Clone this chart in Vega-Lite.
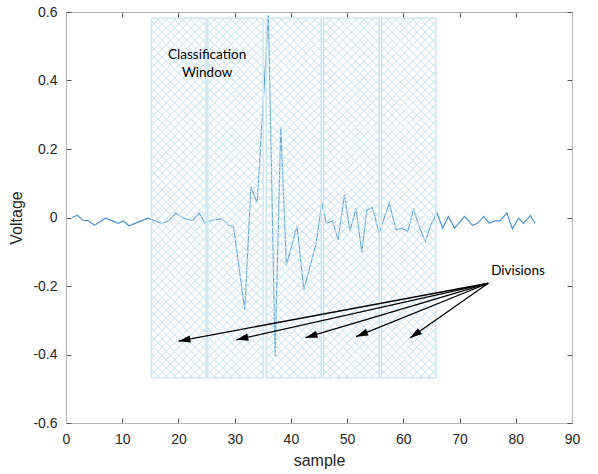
{
  "$schema": "https://vega.github.io/schema/vega-lite/v6.json",
  "width": 506,
  "height": 411,
  "autosize": {"type": "none"},
  "padding": {"left": 66, "top": 12, "right": 26, "bottom": 51},
  "background": "white",
  "config": {
    "view": {"stroke": null},
    "font": "Liberation Sans",
    "axis": {
      "grid": false,
      "labelFlush": false,
      "domainColor": "#b4b4b4",
      "domainWidth": 1,
      "tickColor": "#555555",
      "tickSize": -5,
      "labelColor": "#262626",
      "labelFontSize": 14,
      "labelFont": "Liberation Sans",
      "titleFont": "Liberation Sans",
      "titleFontSize": 16,
      "titleFontWeight": "normal",
      "titleColor": "#262626"
    }
  },
  "datasets": {
    "signal": [
      {"sample": 1.1, "voltage": 0.0},
      {"sample": 2.0, "voltage": 0.007},
      {"sample": 3.0, "voltage": -0.008},
      {"sample": 3.9, "voltage": -0.009},
      {"sample": 5.1, "voltage": -0.023},
      {"sample": 6.1, "voltage": -0.012},
      {"sample": 7.0, "voltage": -0.002},
      {"sample": 8.2, "voltage": -0.009},
      {"sample": 9.3, "voltage": -0.017},
      {"sample": 10.2, "voltage": -0.01},
      {"sample": 11.2, "voltage": -0.024},
      {"sample": 12.3, "voltage": -0.017},
      {"sample": 13.5, "voltage": -0.009},
      {"sample": 14.6, "voltage": -0.002},
      {"sample": 15.6, "voltage": -0.009},
      {"sample": 17.1, "voltage": -0.018},
      {"sample": 18.3, "voltage": -0.009},
      {"sample": 19.5, "voltage": 0.013},
      {"sample": 20.6, "voltage": 0.001},
      {"sample": 21.5, "voltage": -0.005},
      {"sample": 22.6, "voltage": -0.008},
      {"sample": 23.7, "voltage": 0.013},
      {"sample": 24.7, "voltage": -0.016},
      {"sample": 25.9, "voltage": -0.008},
      {"sample": 27.5, "voltage": -0.004},
      {"sample": 28.1, "voltage": -0.008},
      {"sample": 29.0, "voltage": -0.023},
      {"sample": 29.8, "voltage": -0.027},
      {"sample": 31.8, "voltage": -0.27},
      {"sample": 32.9, "voltage": 0.09},
      {"sample": 34.0, "voltage": 0.042},
      {"sample": 36.0, "voltage": 0.59},
      {"sample": 37.2, "voltage": -0.405},
      {"sample": 38.2, "voltage": 0.265},
      {"sample": 39.2, "voltage": -0.14},
      {"sample": 41.1, "voltage": -0.025},
      {"sample": 42.3, "voltage": -0.211},
      {"sample": 43.4, "voltage": -0.143},
      {"sample": 44.5, "voltage": -0.075},
      {"sample": 45.5, "voltage": 0.042},
      {"sample": 46.3, "voltage": -0.017},
      {"sample": 47.4, "voltage": -0.01},
      {"sample": 48.4, "voltage": -0.065},
      {"sample": 49.5, "voltage": 0.066},
      {"sample": 50.5, "voltage": -0.039},
      {"sample": 51.6, "voltage": 0.027},
      {"sample": 52.6, "voltage": -0.101},
      {"sample": 53.5, "voltage": 0.022},
      {"sample": 54.5, "voltage": 0.029},
      {"sample": 55.7, "voltage": -0.046},
      {"sample": 57.5, "voltage": 0.042},
      {"sample": 58.7, "voltage": -0.036},
      {"sample": 59.8, "voltage": -0.031},
      {"sample": 60.8, "voltage": -0.041},
      {"sample": 61.8, "voltage": 0.024},
      {"sample": 62.8, "voltage": -0.026},
      {"sample": 63.9, "voltage": -0.07},
      {"sample": 64.9, "voltage": -0.021},
      {"sample": 66.0, "voltage": 0.013},
      {"sample": 67.0, "voltage": -0.031},
      {"sample": 68.0, "voltage": 0.003},
      {"sample": 69.1, "voltage": -0.031},
      {"sample": 70.9, "voltage": 0.003},
      {"sample": 72.3, "voltage": -0.023},
      {"sample": 73.2, "voltage": -0.017},
      {"sample": 74.3, "voltage": 0.003},
      {"sample": 75.3, "voltage": -0.017},
      {"sample": 76.2, "voltage": -0.01},
      {"sample": 77.2, "voltage": -0.01},
      {"sample": 78.4, "voltage": 0.013},
      {"sample": 79.4, "voltage": -0.033},
      {"sample": 80.5, "voltage": -0.002},
      {"sample": 81.4, "voltage": -0.017},
      {"sample": 82.6, "voltage": 0.006},
      {"sample": 83.4, "voltage": -0.017}
    ],
    "divisions": [
      {"start": 15.2, "end": 24.9, "low": -0.468, "high": 0.582},
      {"start": 25.2, "end": 35.1, "low": -0.468, "high": 0.582},
      {"start": 35.6, "end": 45.4, "low": -0.468, "high": 0.582},
      {"start": 45.8, "end": 55.7, "low": -0.468, "high": 0.582},
      {"start": 56.1, "end": 65.8, "low": -0.468, "high": 0.582}
    ],
    "arrows": [
      {"fromX": 75.1, "fromY": -0.192, "toX": 20.0, "toY": -0.361, "angle": 259.4},
      {"fromX": 75.1, "fromY": -0.192, "toX": 30.3, "toY": -0.357, "angle": 257.3},
      {"fromX": 75.1, "fromY": -0.192, "toX": 42.6, "toY": -0.351, "angle": 253.4},
      {"fromX": 75.1, "fromY": -0.192, "toX": 51.6, "toY": -0.348, "angle": 247.9},
      {"fromX": 75.1, "fromY": -0.192, "toX": 61.2, "toY": -0.352, "angle": 234.7}
    ],
    "notes": [
      {"x": 25.1, "y": 0.473, "label": "Classification"},
      {"x": 25.1, "y": 0.422, "label": "Window"},
      {"x": 80.4, "y": -0.157, "label": "Divisions"}
    ]
  },
  "resolve": {"axis": {"x": "independent", "y": "independent"}},
  "layer": [
    {
      "data": {"name": "signal"},
      "mark": {"type": "line", "color": "#4a93d2", "strokeWidth": 1.2},
      "encoding": {
        "x": {"field": "sample", "type": "quantitative", "scale": {"domain": [0, 90], "nice": false},
              "axis": {"orient": "bottom", "values": [0,10,20,30,40,50,60,70,80,90], "title": "sample", "labelPadding": 14, "titlePadding": 6}},
        "y": {"field": "voltage", "type": "quantitative", "scale": {"domain": [-0.6, 0.6], "nice": false},
              "axis": {"orient": "left", "values": [-0.6,-0.4,-0.2,0,0.2,0.4,0.6], "labelExpr": "datum.value == 0 ? '0' : replace(format(datum.value, '.1f'), '\u2212', '-')", "title": "Voltage", "labelPadding": 14, "titlePadding": 8}}
      }
    },
    {
      "data": {"name": "divisions"},
      "mark": {"type": "rect", "fill": "white", "fillOpacity": 0.2, "stroke": "#cfe7f2", "strokeWidth": 1.5},
      "encoding": {
        "x": {"field": "start", "type": "quantitative",
              "axis": {"orient": "top", "values": [0,10,20,30,40,50,60,70,80,90], "labels": false, "title": null}},
        "x2": {"field": "end"},
        "y": {"field": "low", "type": "quantitative",
              "axis": {"orient": "right", "values": [-0.6,-0.4,-0.2,0,0.2,0.4,0.6], "labels": false, "title": null}},
        "y2": {"field": "high"}
      }
    },
    {
      "data": {"name": "divisions"},
      "mark": {"type": "rect", "strokeWidth": 0, "fill": {"gradient": "linear", "x1": 0, "y1": 0, "x2": 0.172, "y2": 1.1265, "stops": [
        {"offset": 0, "color": "#cbe6f1"}, {"offset": 0.003, "color": "rgba(203,230,241,0)"}, {"offset": 0.017, "color": "rgba(203,230,241,0)"},
        {"offset": 0.02, "color": "#cbe6f1"}, {"offset": 0.023, "color": "rgba(203,230,241,0)"}, {"offset": 0.037, "color": "rgba(203,230,241,0)"},
        {"offset": 0.04, "color": "#cbe6f1"}, {"offset": 0.043, "color": "rgba(203,230,241,0)"}, {"offset": 0.057, "color": "rgba(203,230,241,0)"},
        {"offset": 0.06, "color": "#cbe6f1"}, {"offset": 0.063, "color": "rgba(203,230,241,0)"}, {"offset": 0.077, "color": "rgba(203,230,241,0)"},
        {"offset": 0.08, "color": "#cbe6f1"}, {"offset": 0.083, "color": "rgba(203,230,241,0)"}, {"offset": 0.097, "color": "rgba(203,230,241,0)"},
        {"offset": 0.1, "color": "#cbe6f1"}, {"offset": 0.103, "color": "rgba(203,230,241,0)"}, {"offset": 0.117, "color": "rgba(203,230,241,0)"},
        {"offset": 0.12, "color": "#cbe6f1"}, {"offset": 0.123, "color": "rgba(203,230,241,0)"}, {"offset": 0.137, "color": "rgba(203,230,241,0)"},
        {"offset": 0.14, "color": "#cbe6f1"}, {"offset": 0.143, "color": "rgba(203,230,241,0)"}, {"offset": 0.157, "color": "rgba(203,230,241,0)"},
        {"offset": 0.16, "color": "#cbe6f1"}, {"offset": 0.163, "color": "rgba(203,230,241,0)"}, {"offset": 0.177, "color": "rgba(203,230,241,0)"},
        {"offset": 0.18, "color": "#cbe6f1"}, {"offset": 0.183, "color": "rgba(203,230,241,0)"}, {"offset": 0.197, "color": "rgba(203,230,241,0)"},
        {"offset": 0.2, "color": "#cbe6f1"}, {"offset": 0.203, "color": "rgba(203,230,241,0)"}, {"offset": 0.217, "color": "rgba(203,230,241,0)"},
        {"offset": 0.22, "color": "#cbe6f1"}, {"offset": 0.223, "color": "rgba(203,230,241,0)"}, {"offset": 0.237, "color": "rgba(203,230,241,0)"},
        {"offset": 0.24, "color": "#cbe6f1"}, {"offset": 0.243, "color": "rgba(203,230,241,0)"}, {"offset": 0.257, "color": "rgba(203,230,241,0)"},
        {"offset": 0.26, "color": "#cbe6f1"}, {"offset": 0.263, "color": "rgba(203,230,241,0)"}, {"offset": 0.277, "color": "rgba(203,230,241,0)"},
        {"offset": 0.28, "color": "#cbe6f1"}, {"offset": 0.283, "color": "rgba(203,230,241,0)"}, {"offset": 0.297, "color": "rgba(203,230,241,0)"},
        {"offset": 0.3, "color": "#cbe6f1"}, {"offset": 0.303, "color": "rgba(203,230,241,0)"}, {"offset": 0.317, "color": "rgba(203,230,241,0)"},
        {"offset": 0.32, "color": "#cbe6f1"}, {"offset": 0.323, "color": "rgba(203,230,241,0)"}, {"offset": 0.337, "color": "rgba(203,230,241,0)"},
        {"offset": 0.34, "color": "#cbe6f1"}, {"offset": 0.343, "color": "rgba(203,230,241,0)"}, {"offset": 0.357, "color": "rgba(203,230,241,0)"},
        {"offset": 0.36, "color": "#cbe6f1"}, {"offset": 0.363, "color": "rgba(203,230,241,0)"}, {"offset": 0.377, "color": "rgba(203,230,241,0)"},
        {"offset": 0.38, "color": "#cbe6f1"}, {"offset": 0.383, "color": "rgba(203,230,241,0)"}, {"offset": 0.397, "color": "rgba(203,230,241,0)"},
        {"offset": 0.4, "color": "#cbe6f1"}, {"offset": 0.403, "color": "rgba(203,230,241,0)"}, {"offset": 0.417, "color": "rgba(203,230,241,0)"},
        {"offset": 0.42, "color": "#cbe6f1"}, {"offset": 0.423, "color": "rgba(203,230,241,0)"}, {"offset": 0.437, "color": "rgba(203,230,241,0)"},
        {"offset": 0.44, "color": "#cbe6f1"}, {"offset": 0.443, "color": "rgba(203,230,241,0)"}, {"offset": 0.457, "color": "rgba(203,230,241,0)"},
        {"offset": 0.46, "color": "#cbe6f1"}, {"offset": 0.463, "color": "rgba(203,230,241,0)"}, {"offset": 0.477, "color": "rgba(203,230,241,0)"},
        {"offset": 0.48, "color": "#cbe6f1"}, {"offset": 0.483, "color": "rgba(203,230,241,0)"}, {"offset": 0.497, "color": "rgba(203,230,241,0)"},
        {"offset": 0.5, "color": "#cbe6f1"}, {"offset": 0.503, "color": "rgba(203,230,241,0)"}, {"offset": 0.517, "color": "rgba(203,230,241,0)"},
        {"offset": 0.52, "color": "#cbe6f1"}, {"offset": 0.523, "color": "rgba(203,230,241,0)"}, {"offset": 0.537, "color": "rgba(203,230,241,0)"},
        {"offset": 0.54, "color": "#cbe6f1"}, {"offset": 0.543, "color": "rgba(203,230,241,0)"}, {"offset": 0.557, "color": "rgba(203,230,241,0)"},
        {"offset": 0.56, "color": "#cbe6f1"}, {"offset": 0.563, "color": "rgba(203,230,241,0)"}, {"offset": 0.577, "color": "rgba(203,230,241,0)"},
        {"offset": 0.58, "color": "#cbe6f1"}, {"offset": 0.583, "color": "rgba(203,230,241,0)"}, {"offset": 0.597, "color": "rgba(203,230,241,0)"},
        {"offset": 0.6, "color": "#cbe6f1"}, {"offset": 0.603, "color": "rgba(203,230,241,0)"}, {"offset": 0.617, "color": "rgba(203,230,241,0)"},
        {"offset": 0.62, "color": "#cbe6f1"}, {"offset": 0.623, "color": "rgba(203,230,241,0)"}, {"offset": 0.637, "color": "rgba(203,230,241,0)"},
        {"offset": 0.64, "color": "#cbe6f1"}, {"offset": 0.643, "color": "rgba(203,230,241,0)"}, {"offset": 0.657, "color": "rgba(203,230,241,0)"},
        {"offset": 0.66, "color": "#cbe6f1"}, {"offset": 0.663, "color": "rgba(203,230,241,0)"}, {"offset": 0.677, "color": "rgba(203,230,241,0)"},
        {"offset": 0.68, "color": "#cbe6f1"}, {"offset": 0.683, "color": "rgba(203,230,241,0)"}, {"offset": 0.697, "color": "rgba(203,230,241,0)"},
        {"offset": 0.7, "color": "#cbe6f1"}, {"offset": 0.703, "color": "rgba(203,230,241,0)"}, {"offset": 0.717, "color": "rgba(203,230,241,0)"},
        {"offset": 0.72, "color": "#cbe6f1"}, {"offset": 0.723, "color": "rgba(203,230,241,0)"}, {"offset": 0.737, "color": "rgba(203,230,241,0)"},
        {"offset": 0.74, "color": "#cbe6f1"}, {"offset": 0.743, "color": "rgba(203,230,241,0)"}, {"offset": 0.757, "color": "rgba(203,230,241,0)"},
        {"offset": 0.76, "color": "#cbe6f1"}, {"offset": 0.763, "color": "rgba(203,230,241,0)"}, {"offset": 0.777, "color": "rgba(203,230,241,0)"},
        {"offset": 0.78, "color": "#cbe6f1"}, {"offset": 0.783, "color": "rgba(203,230,241,0)"}, {"offset": 0.797, "color": "rgba(203,230,241,0)"},
        {"offset": 0.8, "color": "#cbe6f1"}, {"offset": 0.803, "color": "rgba(203,230,241,0)"}, {"offset": 0.817, "color": "rgba(203,230,241,0)"},
        {"offset": 0.82, "color": "#cbe6f1"}, {"offset": 0.823, "color": "rgba(203,230,241,0)"}, {"offset": 0.837, "color": "rgba(203,230,241,0)"},
        {"offset": 0.84, "color": "#cbe6f1"}, {"offset": 0.843, "color": "rgba(203,230,241,0)"}, {"offset": 0.857, "color": "rgba(203,230,241,0)"},
        {"offset": 0.86, "color": "#cbe6f1"}, {"offset": 0.863, "color": "rgba(203,230,241,0)"}, {"offset": 0.877, "color": "rgba(203,230,241,0)"},
        {"offset": 0.88, "color": "#cbe6f1"}, {"offset": 0.883, "color": "rgba(203,230,241,0)"}, {"offset": 0.897, "color": "rgba(203,230,241,0)"},
        {"offset": 0.9, "color": "#cbe6f1"}, {"offset": 0.903, "color": "rgba(203,230,241,0)"}, {"offset": 0.917, "color": "rgba(203,230,241,0)"},
        {"offset": 0.92, "color": "#cbe6f1"}, {"offset": 0.923, "color": "rgba(203,230,241,0)"}, {"offset": 0.937, "color": "rgba(203,230,241,0)"},
        {"offset": 0.94, "color": "#cbe6f1"}, {"offset": 0.943, "color": "rgba(203,230,241,0)"}, {"offset": 0.957, "color": "rgba(203,230,241,0)"},
        {"offset": 0.96, "color": "#cbe6f1"}, {"offset": 0.963, "color": "rgba(203,230,241,0)"}, {"offset": 0.977, "color": "rgba(203,230,241,0)"},
        {"offset": 0.98, "color": "#cbe6f1"}, {"offset": 0.983, "color": "rgba(203,230,241,0)"}, {"offset": 0.997, "color": "rgba(203,230,241,0)"},
        {"offset": 1, "color": "#cbe6f1"}
      ]}},
      "encoding": {
        "x": {"field": "start", "type": "quantitative", "axis": null},
        "x2": {"field": "end"},
        "y": {"field": "low", "type": "quantitative", "axis": null},
        "y2": {"field": "high"}
      }
    },
    {
      "data": {"name": "divisions"},
      "mark": {"type": "rect", "strokeWidth": 0, "fill": {"gradient": "linear", "x1": 0, "y1": 1, "x2": 0.172, "y2": -0.1265, "stops": [
        {"offset": 0, "color": "#cbe6f1"}, {"offset": 0.003, "color": "rgba(203,230,241,0)"}, {"offset": 0.017, "color": "rgba(203,230,241,0)"},
        {"offset": 0.02, "color": "#cbe6f1"}, {"offset": 0.023, "color": "rgba(203,230,241,0)"}, {"offset": 0.037, "color": "rgba(203,230,241,0)"},
        {"offset": 0.04, "color": "#cbe6f1"}, {"offset": 0.043, "color": "rgba(203,230,241,0)"}, {"offset": 0.057, "color": "rgba(203,230,241,0)"},
        {"offset": 0.06, "color": "#cbe6f1"}, {"offset": 0.063, "color": "rgba(203,230,241,0)"}, {"offset": 0.077, "color": "rgba(203,230,241,0)"},
        {"offset": 0.08, "color": "#cbe6f1"}, {"offset": 0.083, "color": "rgba(203,230,241,0)"}, {"offset": 0.097, "color": "rgba(203,230,241,0)"},
        {"offset": 0.1, "color": "#cbe6f1"}, {"offset": 0.103, "color": "rgba(203,230,241,0)"}, {"offset": 0.117, "color": "rgba(203,230,241,0)"},
        {"offset": 0.12, "color": "#cbe6f1"}, {"offset": 0.123, "color": "rgba(203,230,241,0)"}, {"offset": 0.137, "color": "rgba(203,230,241,0)"},
        {"offset": 0.14, "color": "#cbe6f1"}, {"offset": 0.143, "color": "rgba(203,230,241,0)"}, {"offset": 0.157, "color": "rgba(203,230,241,0)"},
        {"offset": 0.16, "color": "#cbe6f1"}, {"offset": 0.163, "color": "rgba(203,230,241,0)"}, {"offset": 0.177, "color": "rgba(203,230,241,0)"},
        {"offset": 0.18, "color": "#cbe6f1"}, {"offset": 0.183, "color": "rgba(203,230,241,0)"}, {"offset": 0.197, "color": "rgba(203,230,241,0)"},
        {"offset": 0.2, "color": "#cbe6f1"}, {"offset": 0.203, "color": "rgba(203,230,241,0)"}, {"offset": 0.217, "color": "rgba(203,230,241,0)"},
        {"offset": 0.22, "color": "#cbe6f1"}, {"offset": 0.223, "color": "rgba(203,230,241,0)"}, {"offset": 0.237, "color": "rgba(203,230,241,0)"},
        {"offset": 0.24, "color": "#cbe6f1"}, {"offset": 0.243, "color": "rgba(203,230,241,0)"}, {"offset": 0.257, "color": "rgba(203,230,241,0)"},
        {"offset": 0.26, "color": "#cbe6f1"}, {"offset": 0.263, "color": "rgba(203,230,241,0)"}, {"offset": 0.277, "color": "rgba(203,230,241,0)"},
        {"offset": 0.28, "color": "#cbe6f1"}, {"offset": 0.283, "color": "rgba(203,230,241,0)"}, {"offset": 0.297, "color": "rgba(203,230,241,0)"},
        {"offset": 0.3, "color": "#cbe6f1"}, {"offset": 0.303, "color": "rgba(203,230,241,0)"}, {"offset": 0.317, "color": "rgba(203,230,241,0)"},
        {"offset": 0.32, "color": "#cbe6f1"}, {"offset": 0.323, "color": "rgba(203,230,241,0)"}, {"offset": 0.337, "color": "rgba(203,230,241,0)"},
        {"offset": 0.34, "color": "#cbe6f1"}, {"offset": 0.343, "color": "rgba(203,230,241,0)"}, {"offset": 0.357, "color": "rgba(203,230,241,0)"},
        {"offset": 0.36, "color": "#cbe6f1"}, {"offset": 0.363, "color": "rgba(203,230,241,0)"}, {"offset": 0.377, "color": "rgba(203,230,241,0)"},
        {"offset": 0.38, "color": "#cbe6f1"}, {"offset": 0.383, "color": "rgba(203,230,241,0)"}, {"offset": 0.397, "color": "rgba(203,230,241,0)"},
        {"offset": 0.4, "color": "#cbe6f1"}, {"offset": 0.403, "color": "rgba(203,230,241,0)"}, {"offset": 0.417, "color": "rgba(203,230,241,0)"},
        {"offset": 0.42, "color": "#cbe6f1"}, {"offset": 0.423, "color": "rgba(203,230,241,0)"}, {"offset": 0.437, "color": "rgba(203,230,241,0)"},
        {"offset": 0.44, "color": "#cbe6f1"}, {"offset": 0.443, "color": "rgba(203,230,241,0)"}, {"offset": 0.457, "color": "rgba(203,230,241,0)"},
        {"offset": 0.46, "color": "#cbe6f1"}, {"offset": 0.463, "color": "rgba(203,230,241,0)"}, {"offset": 0.477, "color": "rgba(203,230,241,0)"},
        {"offset": 0.48, "color": "#cbe6f1"}, {"offset": 0.483, "color": "rgba(203,230,241,0)"}, {"offset": 0.497, "color": "rgba(203,230,241,0)"},
        {"offset": 0.5, "color": "#cbe6f1"}, {"offset": 0.503, "color": "rgba(203,230,241,0)"}, {"offset": 0.517, "color": "rgba(203,230,241,0)"},
        {"offset": 0.52, "color": "#cbe6f1"}, {"offset": 0.523, "color": "rgba(203,230,241,0)"}, {"offset": 0.537, "color": "rgba(203,230,241,0)"},
        {"offset": 0.54, "color": "#cbe6f1"}, {"offset": 0.543, "color": "rgba(203,230,241,0)"}, {"offset": 0.557, "color": "rgba(203,230,241,0)"},
        {"offset": 0.56, "color": "#cbe6f1"}, {"offset": 0.563, "color": "rgba(203,230,241,0)"}, {"offset": 0.577, "color": "rgba(203,230,241,0)"},
        {"offset": 0.58, "color": "#cbe6f1"}, {"offset": 0.583, "color": "rgba(203,230,241,0)"}, {"offset": 0.597, "color": "rgba(203,230,241,0)"},
        {"offset": 0.6, "color": "#cbe6f1"}, {"offset": 0.603, "color": "rgba(203,230,241,0)"}, {"offset": 0.617, "color": "rgba(203,230,241,0)"},
        {"offset": 0.62, "color": "#cbe6f1"}, {"offset": 0.623, "color": "rgba(203,230,241,0)"}, {"offset": 0.637, "color": "rgba(203,230,241,0)"},
        {"offset": 0.64, "color": "#cbe6f1"}, {"offset": 0.643, "color": "rgba(203,230,241,0)"}, {"offset": 0.657, "color": "rgba(203,230,241,0)"},
        {"offset": 0.66, "color": "#cbe6f1"}, {"offset": 0.663, "color": "rgba(203,230,241,0)"}, {"offset": 0.677, "color": "rgba(203,230,241,0)"},
        {"offset": 0.68, "color": "#cbe6f1"}, {"offset": 0.683, "color": "rgba(203,230,241,0)"}, {"offset": 0.697, "color": "rgba(203,230,241,0)"},
        {"offset": 0.7, "color": "#cbe6f1"}, {"offset": 0.703, "color": "rgba(203,230,241,0)"}, {"offset": 0.717, "color": "rgba(203,230,241,0)"},
        {"offset": 0.72, "color": "#cbe6f1"}, {"offset": 0.723, "color": "rgba(203,230,241,0)"}, {"offset": 0.737, "color": "rgba(203,230,241,0)"},
        {"offset": 0.74, "color": "#cbe6f1"}, {"offset": 0.743, "color": "rgba(203,230,241,0)"}, {"offset": 0.757, "color": "rgba(203,230,241,0)"},
        {"offset": 0.76, "color": "#cbe6f1"}, {"offset": 0.763, "color": "rgba(203,230,241,0)"}, {"offset": 0.777, "color": "rgba(203,230,241,0)"},
        {"offset": 0.78, "color": "#cbe6f1"}, {"offset": 0.783, "color": "rgba(203,230,241,0)"}, {"offset": 0.797, "color": "rgba(203,230,241,0)"},
        {"offset": 0.8, "color": "#cbe6f1"}, {"offset": 0.803, "color": "rgba(203,230,241,0)"}, {"offset": 0.817, "color": "rgba(203,230,241,0)"},
        {"offset": 0.82, "color": "#cbe6f1"}, {"offset": 0.823, "color": "rgba(203,230,241,0)"}, {"offset": 0.837, "color": "rgba(203,230,241,0)"},
        {"offset": 0.84, "color": "#cbe6f1"}, {"offset": 0.843, "color": "rgba(203,230,241,0)"}, {"offset": 0.857, "color": "rgba(203,230,241,0)"},
        {"offset": 0.86, "color": "#cbe6f1"}, {"offset": 0.863, "color": "rgba(203,230,241,0)"}, {"offset": 0.877, "color": "rgba(203,230,241,0)"},
        {"offset": 0.88, "color": "#cbe6f1"}, {"offset": 0.883, "color": "rgba(203,230,241,0)"}, {"offset": 0.897, "color": "rgba(203,230,241,0)"},
        {"offset": 0.9, "color": "#cbe6f1"}, {"offset": 0.903, "color": "rgba(203,230,241,0)"}, {"offset": 0.917, "color": "rgba(203,230,241,0)"},
        {"offset": 0.92, "color": "#cbe6f1"}, {"offset": 0.923, "color": "rgba(203,230,241,0)"}, {"offset": 0.937, "color": "rgba(203,230,241,0)"},
        {"offset": 0.94, "color": "#cbe6f1"}, {"offset": 0.943, "color": "rgba(203,230,241,0)"}, {"offset": 0.957, "color": "rgba(203,230,241,0)"},
        {"offset": 0.96, "color": "#cbe6f1"}, {"offset": 0.963, "color": "rgba(203,230,241,0)"}, {"offset": 0.977, "color": "rgba(203,230,241,0)"},
        {"offset": 0.98, "color": "#cbe6f1"}, {"offset": 0.983, "color": "rgba(203,230,241,0)"}, {"offset": 0.997, "color": "rgba(203,230,241,0)"},
        {"offset": 1, "color": "#cbe6f1"}
      ]}},
      "encoding": {
        "x": {"field": "start", "type": "quantitative", "axis": null},
        "x2": {"field": "end"},
        "y": {"field": "low", "type": "quantitative", "axis": null},
        "y2": {"field": "high"}
      }
    },
    {
      "data": {"name": "arrows"},
      "mark": {"type": "rule", "color": "black", "strokeWidth": 1.3},
      "encoding": {
        "x": {"field": "fromX", "type": "quantitative", "axis": null},
        "y": {"field": "fromY", "type": "quantitative", "axis": null},
        "x2": {"field": "toX"},
        "y2": {"field": "toY"}
      }
    },
    {
      "data": {"name": "arrows"},
      "mark": {"type": "point", "shape": "M0,0L0.6,2L-0.6,2Z", "filled": true, "color": "black", "opacity": 1, "size": 144},
      "encoding": {
        "x": {"field": "toX", "type": "quantitative", "axis": null},
        "y": {"field": "toY", "type": "quantitative", "axis": null},
        "angle": {"field": "angle", "type": "quantitative", "scale": null}
      }
    },
    {
      "data": {"name": "notes"},
      "mark": {"type": "text", "font": "Lato", "fontSize": 13.5, "color": "black", "align": "center", "baseline": "middle"},
      "encoding": {
        "x": {"field": "x", "type": "quantitative", "axis": null},
        "y": {"field": "y", "type": "quantitative", "axis": null},
        "text": {"field": "label", "type": "nominal"}
      }
    }
  ]
}
